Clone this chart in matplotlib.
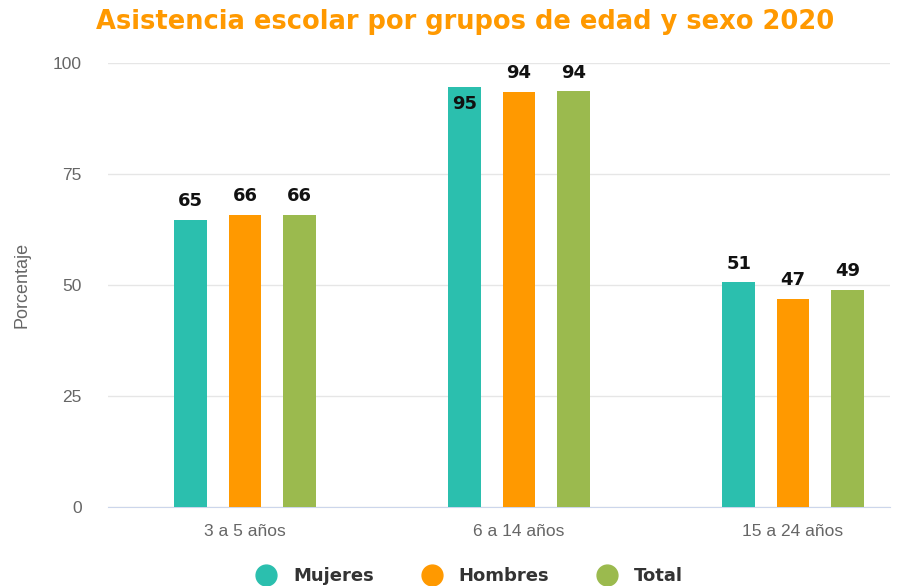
import matplotlib
matplotlib.use('Agg')
import numpy as np
import matplotlib.pyplot as plt
from matplotlib.lines import Line2D

grupos = ['3 a 5 años', '6 a 14 años', '15 a 24 años']
series = ['Mujeres', 'Hombres', 'Total']
mujeres = [64.6, 94.6, 50.6]
hombres = [65.8, 93.5, 46.8]
total = [65.8, 93.6, 48.9]
colores = ['#2bbfae', '#ff9900', '#9bba4e']

valores = [mujeres, hombres, total]

fig = plt.figure(figsize=(9.04, 5.86), dpi=100)
ax = fig.add_axes([0.1195, 0.1348, 0.865, 0.7577])

x = np.arange(len(grupos))
w = 0.12
paso = 0.198
for i, (nombre, vals) in enumerate(zip(series, valores)):
    pos = x + (i - 1) * paso
    ax.bar(pos, vals, width=w, color=colores[i], zorder=3)
    for p, v in zip(pos, vals):
        if v > 94.5:
            # label pushed inside the bar (no room above)
            ax.annotate(f'{v:.0f}', (p, v), xytext=(0, -6), textcoords='offset points',
                        ha='center', va='top', fontsize=13, fontweight='bold',
                        family='DejaVu Sans', color='#111111', zorder=4)
        else:
            ax.annotate(f'{v:.0f}', (p, v), xytext=(0, 7), textcoords='offset points',
                        ha='center', va='bottom', fontsize=13, fontweight='bold',
                        family='DejaVu Sans', color='#111111', zorder=4)

ax.set_xlim(-0.5, 2.354)
ax.set_ylim(0, 100)
ax.set_yticks([0, 25, 50, 75, 100])
ax.set_xticks(x)
ax.set_xticklabels(grupos)
ax.tick_params(axis='both', length=0, labelsize=12.5, labelcolor='#666666')
ax.tick_params(axis='x', pad=12)
ax.tick_params(axis='y', pad=19)
for lab in ax.get_xticklabels() + ax.get_yticklabels():
    lab.set_family('Liberation Sans')
ax.grid(axis='y', color='#e6e6e6', linewidth=1, zorder=0)
for s in ['top', 'right', 'left']:
    ax.spines[s].set_visible(False)
ax.spines['bottom'].set_color('#ccd6eb')
ax.set_ylabel('Porcentaje', fontsize=13, color='#666666', family='Liberation Sans', labelpad=16)

fig.text(0.514, 0.962, 'Asistencia escolar por grupos de edad y sexo 2020', ha='center', va='center',
         fontsize=18.5, fontweight='bold', color='#ff9900', family='DejaVu Sans')

handles = [Line2D([0], [0], marker='o', linestyle='', markersize=15, color=c) for c in colores]
leg = fig.legend(handles, series, loc='center', bbox_to_anchor=(0.515, 0.017), ncol=3, frameon=False,
                 prop={'family': 'DejaVu Sans', 'weight': 'bold', 'size': 13},
                 columnspacing=2.2, handletextpad=0.5)
for t in leg.get_texts():
    t.set_color('#333333')

plt.savefig('out.png', dpi=100)
